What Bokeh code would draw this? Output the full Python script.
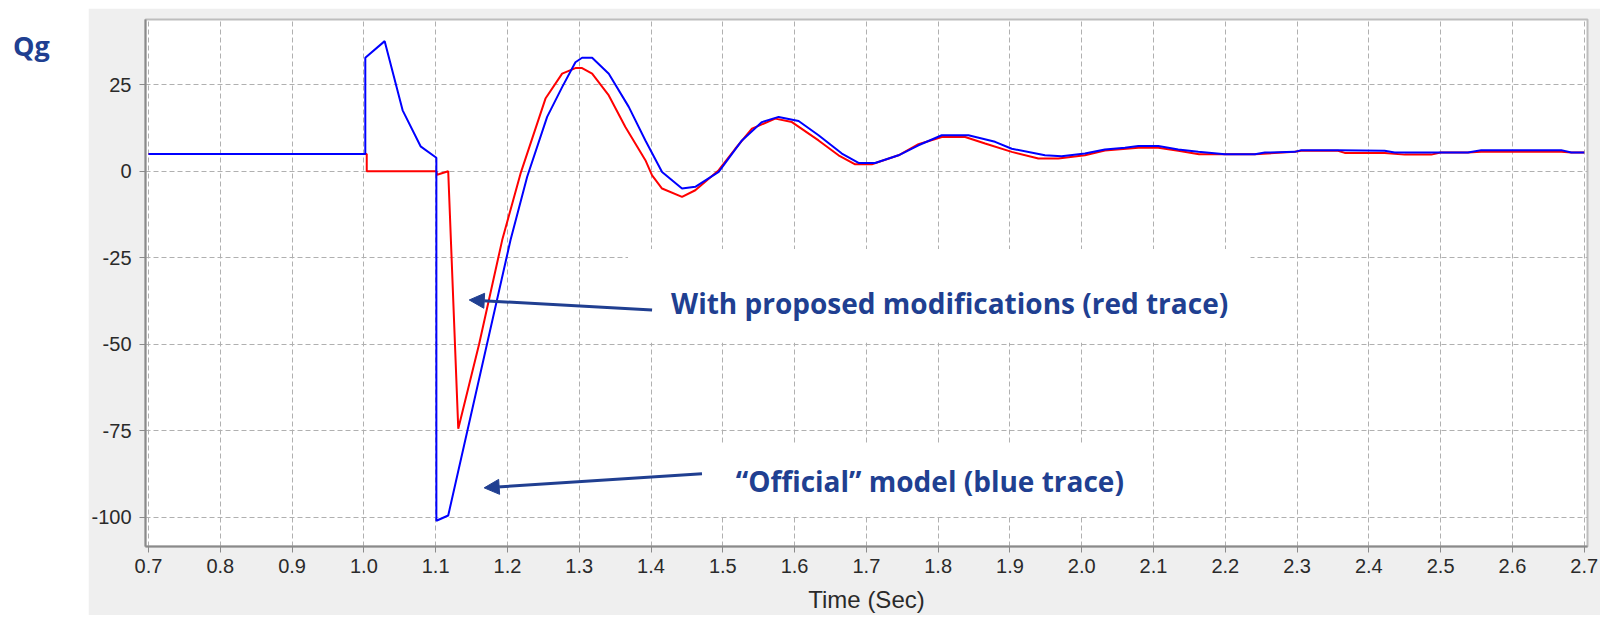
from bokeh.plotting import figure
from bokeh.models import Range1d, FixedTicker, PrintfTickFormatter, Label, Arrow, NormalHead, Spacer
from bokeh.layouts import row, column
from bokeh.embed import file_html
from bokeh.resources import INLINE

# ---- data ----
blue_t = [0.70, 1.002, 1.002, 1.029, 1.054, 1.079, 1.101, 1.101, 1.1175, 1.2043, 1.2275,
          1.2553, 1.2762, 1.2947, 1.304, 1.318, 1.3412, 1.369, 1.3922, 1.4154, 1.4432,
          1.4617, 1.4943, 1.5267, 1.5545, 1.5778, 1.6056, 1.6334, 1.6659, 1.6891, 1.7122,
          1.7448, 1.7726, 1.8051, 1.8422, 1.8793, 1.9025, 1.9488, 1.972, 2.0045, 2.0323,
          2.0602, 2.0789, 2.1067, 2.1345, 2.1624, 2.1994, 2.2412, 2.2551, 2.2969, 2.306,
          2.357, 2.422, 2.436, 2.538, 2.5566, 2.668, 2.682, 2.70]
blue_q = [5.0, 5.0, 32.8, 37.6, 17.6, 7.2, 3.9, -101.0, -99.5, -19.9, -1.6,
          15.7, 24.3, 31.5, 32.8, 32.8, 28.2, 18.6, 8.9, -0.2, -5.0,
          -4.5, -0.2, 8.9, 14.2, 15.7, 14.5, 10.4, 5.1, 2.4, 2.4,
          4.6, 7.5, 10.4, 10.4, 8.5, 6.5, 4.6, 4.3, 5.1, 6.3,
          6.8, 7.3, 7.3, 6.3, 5.6, 4.9, 4.9, 5.4, 5.6, 6.1,
          6.1, 5.9, 5.4, 5.4, 6.1, 6.1, 5.4, 5.4]

red_t = [0.70, 1.004, 1.004, 1.101, 1.102, 1.1175, 1.1315, 1.1605, 1.1927, 1.2182,
         1.253, 1.2762, 1.2947, 1.304, 1.318, 1.3412, 1.3643, 1.3922, 1.4015, 1.4154,
         1.4432, 1.4617, 1.4943, 1.5174, 1.5406, 1.5731, 1.5963, 1.6334, 1.6612, 1.6844,
         1.7077, 1.7448, 1.7726, 1.8051, 1.8376, 1.8654, 1.9025, 1.9396, 1.9674, 2.0045,
         2.0323, 2.0789, 2.1067, 2.1345, 2.1635, 2.2412, 2.2969, 2.306, 2.357, 2.3664,
         2.422, 2.45, 2.487, 2.5, 2.538, 2.5566, 2.668, 2.682, 2.70]
red_q = [5.0, 5.0, 0.0, 0.0, -1.0, 0.0, -74.4, -50.0, -19.9, -0.7,
         21.0, 28.2, 29.8, 29.8, 28.2, 21.9, 12.8, 3.2, -1.2, -5.0,
         -7.4, -5.5, 0.3, 6.5, 12.3, 15.2, 14.2, 8.9, 4.6, 2.0,
         2.0, 4.6, 7.8, 9.9, 9.9, 8.0, 5.6, 3.7, 3.7, 4.6,
         6.0, 6.8, 6.8, 5.9, 4.9, 4.9, 5.6, 5.9, 5.9, 5.3,
         5.3, 4.8, 4.8, 5.4, 5.4, 5.6, 5.6, 5.4, 5.4]

x_ticks = [0.7, 0.8, 0.9, 1.0, 1.1, 1.2, 1.3, 1.4, 1.5, 1.6, 1.7, 1.8, 1.9, 2.0,
           2.1, 2.2, 2.3, 2.4, 2.5, 2.6, 2.7]
y_ticks = [-100, -75, -50, -25, 0, 25]

y_title = "Qg"
x_title = "Time (Sec)"
annot_text = ["With proposed modifications (red trace)", "\u201cOfficial\u201d model (blue trace)"]
annot_x = [1.428, 1.518]
annot_y = [-38.2, -89.6]
arrow_x_start = [1.4015, 1.471]
arrow_y_start = [-40.1, -87.4]
arrow_x_end = [1.1468, 1.1676]
arrow_y_end = [-37.2, -91.5]
box_left = [1.368, 1.478]
box_right = [2.2352, 2.0695]
box_top = [-22.5, -79.1]
box_bottom = [-49.6, -99.3]

ANNOT_COLOR = "#203f91"
PANEL_GREY = "#efefef"
TEXT_FONT = "Open Sans"

# ---- left white strip with the "Qg" title ----
pq = figure(width=88, height=615, x_range=Range1d(0, 88), y_range=Range1d(615, 0),
            x_axis_type=None, y_axis_type=None, toolbar_location=None,
            output_backend="svg", min_border=0)
pq.outline_line_color = None
pq.grid.visible = False
pq.add_layout(Label(x=12.5, y=45, text=y_title, text_font=TEXT_FONT, text_font_size="27px",
                    text_font_style="bold", text_color=ANNOT_COLOR, text_baseline="alphabetic",
                    text_align="left"))

# ---- main chart ----
p = figure(width=1512, height=607, x_range=Range1d(0.6958, 2.7046),
           y_range=Range1d(-108.45, 43.85), toolbar_location=None, output_backend="svg",
           min_border_left=55, min_border_right=13, min_border_top=11, min_border_bottom=69)
p.border_fill_color = PANEL_GREY
p.background_fill_color = "white"
p.outline_line_color = "#bdbdbd"
p.outline_line_width = 2

p.xaxis.ticker = FixedTicker(ticks=x_ticks)
p.yaxis.ticker = FixedTicker(ticks=y_ticks)
p.xaxis.formatter = PrintfTickFormatter(format="%.1f")
p.yaxis.formatter = PrintfTickFormatter(format="%d")
for ax in (p.xaxis, p.yaxis):
    ax.axis_line_color = "#8a8a8a"
    ax.axis_line_width = 2
    ax.major_tick_line_color = "#8a8a8a"
    ax.major_tick_out = 6
    ax.major_tick_in = 0
    ax.minor_tick_line_color = None
    ax.major_label_text_font = "Liberation Sans"
    ax.major_label_text_font_size = "20px"
    ax.major_label_text_color = "#2a2a2a"
p.xaxis.major_label_standoff = 6
p.yaxis.major_label_standoff = 8
p.xaxis.axis_label = x_title
p.xaxis.axis_label_text_font = "Liberation Sans"
p.xaxis.axis_label_text_font_size = "24px"
p.xaxis.axis_label_text_font_style = "normal"
p.xaxis.axis_label_text_color = "#2a2a2a"
p.xaxis.axis_label_standoff = 10

p.grid.grid_line_color = "#b0b0b0"
p.grid.grid_line_dash = "5 3"
p.grid.grid_line_width = 1

# white backgrounds behind the annotation texts
p.quad(left=box_left, right=box_right, top=box_top, bottom=box_bottom,
       fill_color="white", line_color=None)

p.line(red_t, red_q, line_color="#ff0000", line_width=2)
p.line(blue_t, blue_q, line_color="#0000ff", line_width=2)

for i in range(len(annot_text)):
    p.add_layout(Arrow(x_start=arrow_x_start[i], y_start=arrow_y_start[i],
                       x_end=arrow_x_end[i], y_end=arrow_y_end[i],
                       line_color=ANNOT_COLOR, line_width=3,
                       end=NormalHead(size=15, fill_color=ANNOT_COLOR, line_color=ANNOT_COLOR)))
    p.add_layout(Label(x=annot_x[i], y=annot_y[i], text=annot_text[i], text_font=TEXT_FONT,
                       text_font_size="28px", text_font_style="bold", text_color=ANNOT_COLOR,
                       text_baseline="alphabetic", text_align="left"))

layout = row(pq, column(Spacer(width=1512, height=8), p))
open("out.html", "w").write(file_html(layout, INLINE))
